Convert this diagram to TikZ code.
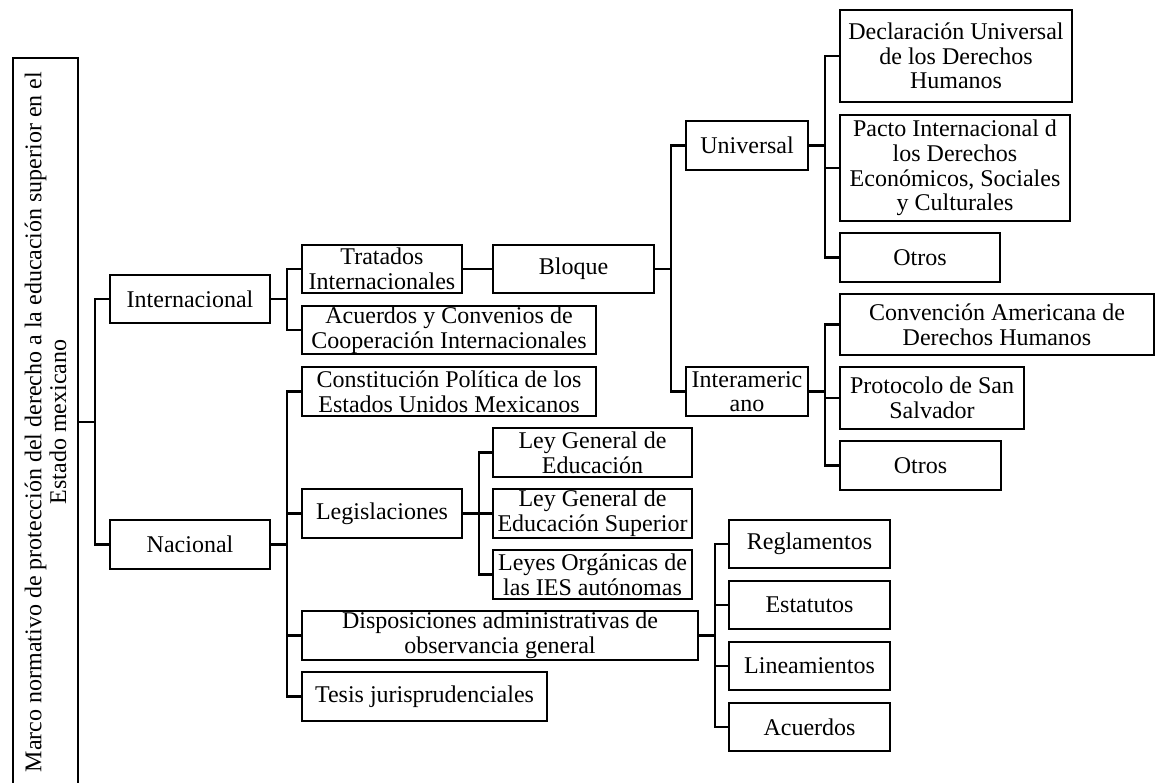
\documentclass[tikz,border=0pt]{standalone}
\usepackage{fontspec}
\setmainfont{Liberation Serif}
\usepackage{tikz}

\begin{document}
\begin{tikzpicture}[x=0.5pt, y=-0.5pt,
    caja/.style={draw, line width=1.1pt, inner sep=0pt, align=center,
                 font=\fontsize{12}{12.3}\selectfont},
    tam/.style 2 args={minimum width=#1*0.5pt, minimum height=#2*0.5pt},
    rama/.style={line width=1.1pt},
]
    \useasboundingbox (0,0) rectangle (1155,782);

    \node[caja, rotate=90, tam={728}{65}] (marco) at (45.5,422)
        {Marco normativo de protección del derecho a la educación superior en el\\Estado mexicano};

    \node[caja, tam={160}{48}] (inter) at (190,299) {Internacional};
    \node[caja, tam={160}{49}] (nac) at (190,544.5) {Nacional};

    \node[caja, tam={160}{48}] (trat) at (382,269) {Tratados\\Internacionales};
    \node[caja, tam={294}{48}] (acuer) at (449,330) {Acuerdos y Convenios de\\Cooperación Internacionales};
    \node[caja, tam={294}{49}] (const) at (449,391.5) {Constitución Política de los\\Estados Unidos Mexicanos};
    \node[caja, tam={160}{49}] (legis) at (382,513.5) {Legislaciones};
    \node[caja, tam={396}{49}] (dispo) at (500,635.5) {Disposiciones administrativas de\\observancia general};
    \node[caja, tam={245}{49}] (tesis) at (424.5,696.5) {Tesis jurisprudenciales};

    \node[caja, tam={161}{48}] (bloq) at (573.5,269) {Bloque};
    \node[caja, tam={199}{49}] (lge) at (592.5,452.5) {Ley General de\\Educación};
    \node[caja, tam={199}{49}] (lges) at (592.5,513.5) {Ley General de\\Educación Superior};
    \node[caja, tam={199}{49}] (lorg) at (592.5,574.5) {Leyes Orgánicas de\\las IES autónomas};

    \node[caja, tam={122}{49}] (univ) at (747,145.5) {Universal};
    \node[caja, tam={122}{49}] (inam) at (747,391.5) {Interameric\\ano};

    \node[caja, tam={232}{92}] (decl) at (956,56) {Declaración Universal\\de los Derechos\\Humanos};
    \node[caja, tam={230}{106}] (pacto) at (955,168) {Pacto Internacional d\\los Derechos\\Económicos, Sociales\\y Culturales};
    \node[caja, tam={160}{49}] (otros1) at (920,257.5) {Otros};
    \node[caja, tam={314}{61}] (conv) at (997,324.5) {Convención Americana de\\Derechos Humanos};
    \node[caja, tam={184}{62}] (proto) at (932,398) {Protocolo de San\\Salvador};
    \node[caja, tam={161}{49}] (otros2) at (920.5,465.5) {Otros};

    \node[caja, tam={161}{48}] (regl) at (809.5,544) {Reglamentos};
    \node[caja, tam={161}{48}] (estat) at (809.5,605) {Estatutos};
    \node[caja, tam={161}{48}] (linea) at (809.5,666) {Lineamientos};
    \node[caja, tam={161}{48}] (acdos) at (809.5,727) {Acuerdos};

    % ramas
    \draw[rama] (marco.south) -- ++(16,0) |- (inter.west);
    \draw[rama] (marco.south) -- ++(16,0) |- (nac.west);

    \draw[rama] (inter.east) -- ++(16,0) |- (trat.west);
    \draw[rama] (inter.east) -- ++(16,0) |- (acuer.west);

    \draw[rama] (nac.east) -- ++(16,0) |- (const.west);
    \draw[rama] (nac.east) -- ++(16,0) |- (legis.west);
    \draw[rama] (nac.east) -- ++(16,0) |- (dispo.west);
    \draw[rama] (nac.east) -- ++(16,0) |- (tesis.west);

    \draw[rama] (trat.east) -- (bloq.west);
    \draw[rama] (bloq.east) -- ++(16,0) |- (univ.west);
    \draw[rama] (bloq.east) -- ++(16,0) |- (inam.west);

    \draw[rama] (univ.east) -- ++(16,0) |- (decl.west);
    \draw[rama] (univ.east) -- ++(16,0) |- (pacto.west);
    \draw[rama] (univ.east) -- ++(16,0) |- (otros1.west);

    \draw[rama] (inam.east) -- ++(16,0) |- (conv.west);
    \draw[rama] (inam.east) -- ++(16,0) |- (proto.west);
    \draw[rama] (inam.east) -- ++(16,0) |- (otros2.west);

    \draw[rama] (legis.east) -- ++(16,0) |- (lge.west);
    \draw[rama] (legis.east) -- ++(16,0) |- (lges.west);
    \draw[rama] (legis.east) -- ++(16,0) |- (lorg.west);

    \draw[rama] (dispo.east) -- ++(16,0) |- (regl.west);
    \draw[rama] (dispo.east) -- ++(16,0) |- (estat.west);
    \draw[rama] (dispo.east) -- ++(16,0) |- (linea.west);
    \draw[rama] (dispo.east) -- ++(16,0) |- (acdos.west);
\end{tikzpicture}
\end{document}
